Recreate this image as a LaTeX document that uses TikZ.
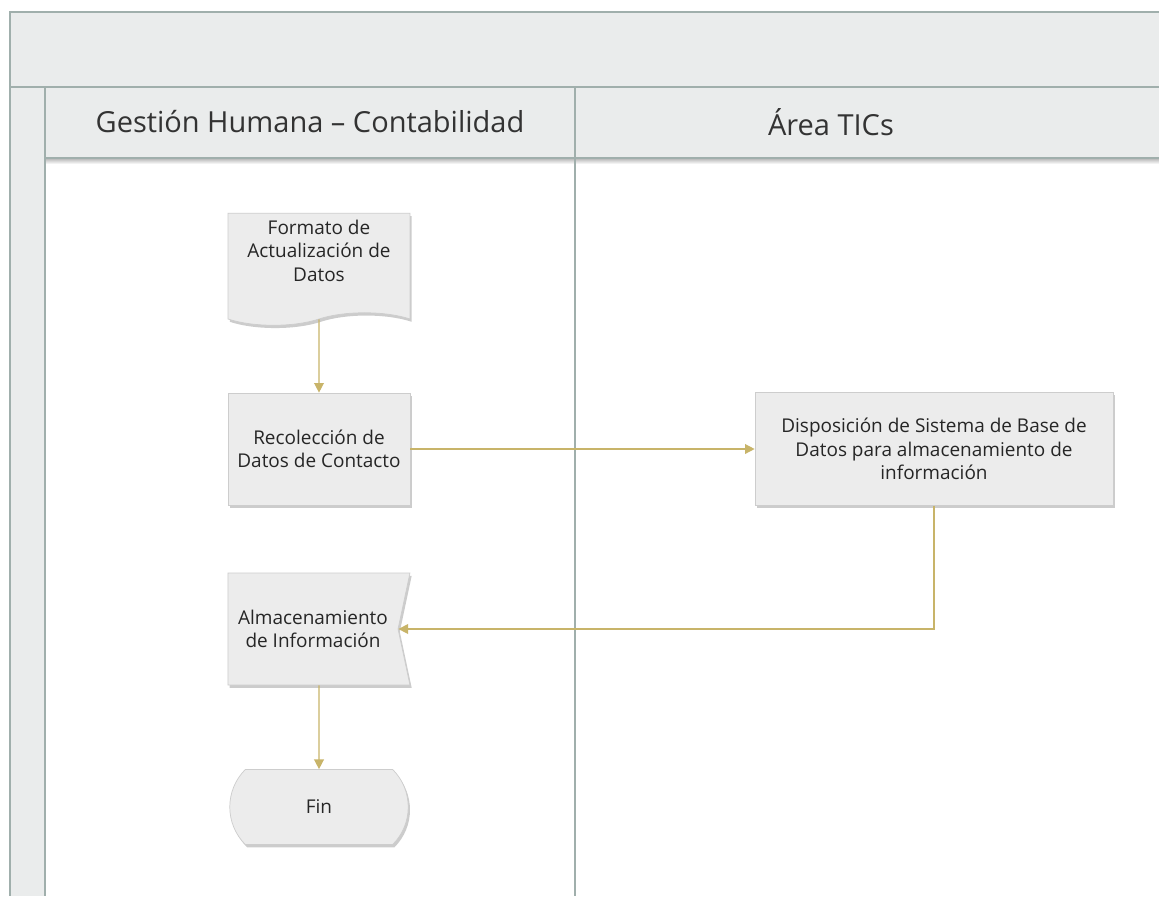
\documentclass[tikz,border=0pt]{standalone}
\usepackage{fontspec}
\setmainfont{Open Sans}
\usetikzlibrary{shapes.symbols,shapes.misc,shadows,arrows.meta}
\definecolor{lanegray}{RGB}{234,236,236}
\definecolor{lanerule}{RGB}{160,175,172}
\definecolor{boxgray}{RGB}{236,236,236}
\definecolor{boxline}{RGB}{205,205,205}
\definecolor{flowgold}{RGB}{200,180,105}

\begin{document}
\begin{tikzpicture}[x=0.02cm,y=-0.02cm,
    lanerule/.style={draw=lanerule,line width=0.6pt},
    header/.style={font=\fontsize{16.5}{20}\selectfont,text=black!80},
    box/.style={fill=boxgray,draw=boxline,line width=0.4pt,align=center,inner sep=1pt,
        font=\fontsize{10.8}{13.4}\selectfont,text=black!85,
        drop shadow={opacity=0.4,shadow xshift=1pt,shadow yshift=-1.6pt}},
    flow/.style={draw=flowgold,line width=0.8pt,-{Triangle[length=5.5pt,width=5.5pt]}}]
    %bounding box
    \useasboundingbox (0,0) rectangle (1159,896);
    \fill[white] (0,0) rectangle (1159,896);

    %pool and lanes
    \fill[lanegray] (10,12) rectangle (1159,158);
    \fill[lanegray] (10,158) rectangle (45,896);
    \shade[top color=black!30,bottom color=white] (45,158) rectangle (1159,164);
    \draw[lanerule] (1159,12) -- (10,12) -- (10,896);
    \draw[lanerule] (10,87) -- (1159,87);
    \draw[lanerule] (45,158) -- (1159,158);
    \draw[lanerule] (45,87) -- (45,896);
    \draw[lanerule] (575,87) -- (575,896);
    \node[header] (lanegh) at (310,122) {Gestión Humana – Contabilidad};
    \node[header] (lanetic) at (831,122) {Área TICs};

    %steps
    \node[box,tape,tape bend top=none,tape bend bottom=in and out,tape bend height=0.25cm,
        minimum width=3.64cm,minimum height=2.24cm] (formato) at (319,263)
        {Formato de\\Actualización de\\Datos\\[1pt]\mbox{}};
    \node[box,minimum width=3.64cm,minimum height=2.24cm] (recoleccion) at (319,449)
        {Recolección de\\Datos de Contacto};
    \node[box,minimum width=7.16cm,minimum height=2.26cm] (disposicion) at (934,449)
        {Disposición de Sistema de Base de\\Datos para almacenamiento de\\información};
    \node[box,signal,signal from=east,signal to=nowhere,signal pointer angle=156,
        minimum width=3.64cm,minimum height=2.24cm] (almacen) at (313,629)
        {Almacenamiento\\de Información};
    \node[box,rounded rectangle,rounded rectangle arc length=90,
        minimum width=3.64cm,minimum height=1.5cm] (fin) at (319,807) {Fin};

    %flow
    \draw[flow] (formato) -- (recoleccion);
    \draw[flow] (recoleccion) -- (disposicion);
    \draw[flow] (disposicion.south) |- (almacen.east);
    \draw[flow] (almacen.south -| fin.north) -- (fin);
\end{tikzpicture}
\end{document}
